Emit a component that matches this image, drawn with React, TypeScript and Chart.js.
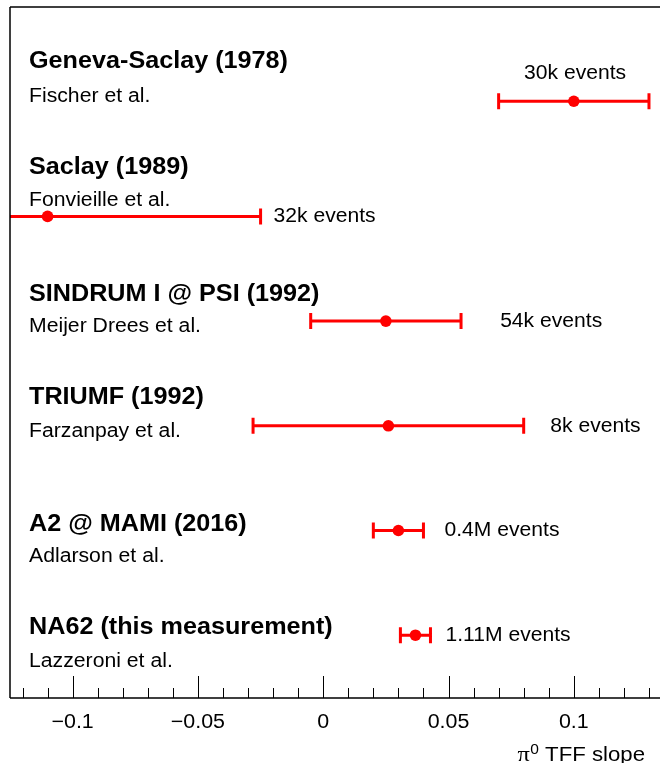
import { useEffect, useRef } from "react";
import { Chart, registerables } from "chart.js";

Chart.register(...registerables);

// ---- data ----
const experiments = [
  "Geneva-Saclay (1978)",
  "Saclay (1989)",
  "SINDRUM I @ PSI (1992)",
  "TRIUMF (1992)",
  "A2 @ MAMI (2016)",
  "NA62 (this measurement)",
];
const authors = [
  "Fischer et al.",
  "Fonvieille et al.",
  "Meijer Drees et al.",
  "Farzanpay et al.",
  "Adlarson et al.",
  "Lazzeroni et al.",
];
const eventLabels = ["30k events", "32k events", "54k events", "8k events", "0.4M events", "1.11M events"];
const slopeValues = [0.1, -0.11, 0.025, 0.026, 0.03, 0.0368];
const slopeErrors = [0.03, 0.085, 0.03, 0.054, 0.01, 0.006];
const rowY = [5.7, 4.6, 3.6, 2.6, 1.6, 0.6];
const xTickValues = [-0.1, -0.05, 0, 0.05, 0.1];
const xTickLabels = ["\u22120.1", "\u22120.05", "0", "0.05", "0.1"];

// ---- layout of annotations (axis units) ----
const titleY = [6.017, 5.005, 3.792, 2.805, 1.595, 0.608];
const authorY = [5.695, 4.699, 3.493, 2.496, 1.302, 0.299];
const eventX = [0.1005, -0.0198, 0.0706, 0.0906, 0.0484, 0.0488];

const X_MIN = -0.125;
const X_MAX = 0.134;
const RED = "#ff0000";
const FONT = "'Liberation Sans', Arial, Helvetica, sans-serif";

function stretchText(ctx: CanvasRenderingContext2D, text: string, x: number, y: number, sx: number, align: "left" | "center" | "right") {
  ctx.save();
  ctx.translate(x, y);
  ctx.scale(sx, 1);
  ctx.textAlign = align;
  ctx.fillText(text, 0, 0);
  ctx.restore();
}

const forestPlugin = {
  id: "forest",
  beforeDatasetsDraw(chart: any) {
    const { ctx, chartArea, scales } = chart;
    const xs = scales.x;
    const ys = scales.y;
    ctx.save();
    ctx.beginPath();
    ctx.rect(chartArea.left, chartArea.top, chartArea.right - chartArea.left, chartArea.bottom - chartArea.top);
    ctx.clip();
    ctx.strokeStyle = RED;
    ctx.lineWidth = 3;
    slopeValues.forEach((v, i) => {
      const y = ys.getPixelForValue(rowY[i]);
      const x1 = xs.getPixelForValue(v - slopeErrors[i]);
      const x2 = xs.getPixelForValue(v + slopeErrors[i]);
      ctx.beginPath();
      ctx.moveTo(x1, y);
      ctx.lineTo(x2, y);
      ctx.moveTo(x1, y - 8);
      ctx.lineTo(x1, y + 8);
      ctx.moveTo(x2, y - 8);
      ctx.lineTo(x2, y + 8);
      ctx.stroke();
    });
    ctx.restore();
  },
  afterDraw(chart: any) {
    const { ctx, chartArea, scales } = chart;
    const xs = scales.x;
    const ys = scales.y;
    const { left, right, top, bottom } = chartArea;
    ctx.save();
    // frame
    ctx.strokeStyle = "#000";
    ctx.lineWidth = 1.5;
    ctx.beginPath();
    ctx.moveTo(left, top);
    ctx.lineTo(right + 1, top);
    ctx.moveTo(left, top);
    ctx.lineTo(left, bottom);
    ctx.moveTo(left, bottom);
    ctx.lineTo(right + 1, bottom);
    ctx.stroke();
    // ticks
    ctx.lineWidth = 1;
    ctx.beginPath();
    for (let k = -12; k <= 13; k++) {
      const v = k / 100;
      const px = Math.round(xs.getPixelForValue(v)) + 0.5;
      const major = k % 5 === 0;
      ctx.moveTo(px, bottom);
      ctx.lineTo(px, bottom - (major ? 22 : 10));
    }
    ctx.stroke();
    // tick labels
    ctx.fillStyle = "#000";
    ctx.textBaseline = "alphabetic";
    ctx.font = `20px ${FONT}`;
    xTickValues.forEach((v, i) => {
      stretchText(ctx, xTickLabels[i], xs.getPixelForValue(v), bottom + 29.5, 1.07, "center");
    });
    // axis title
    const SX = 1.11;
    ctx.font = `20px ${FONT}`;
    const rest = " TFF slope";
    const restW = ctx.measureText(rest).width * SX;
    const axRight = 645;
    const by = bottom + 63;
    stretchText(ctx, rest, axRight, by, SX, "right");
    ctx.font = `14px ${FONT}`;
    const supW = ctx.measureText("0").width * SX;
    stretchText(ctx, "0", axRight - restW, by - 7, SX, "right");
    ctx.font = `22px 'Liberation Serif', 'DejaVu Serif', serif`;
    stretchText(ctx, "\u03c0", axRight - restW - supW - 0.5, by, SX, "right");
    // labels
    experiments.forEach((name, i) => {
      ctx.font = `bold 23px ${FONT}`;
      stretchText(ctx, name, left + 19, ys.getPixelForValue(titleY[i]), 1.095, "left");
      ctx.font = `20px ${FONT}`;
      stretchText(ctx, authors[i], left + 19, ys.getPixelForValue(authorY[i]), 1.06, "left");
      ctx.font = `20px ${FONT}`;
      const rowPx = ys.getPixelForValue(rowY[i]);
      if (i === 0) {
        stretchText(ctx, eventLabels[i], xs.getPixelForValue(eventX[i]), rowPx - 22, 1.055, "center");
      } else {
        stretchText(ctx, eventLabels[i], xs.getPixelForValue(eventX[i]), rowPx + 6, 1.055, "left");
      }
    });
    ctx.restore();
  },
};

export default function App() {
  const ref = useRef<HTMLCanvasElement>(null);
  useEffect(() => {
    const canvas = ref.current;
    if (!canvas) return;
    const chart = new Chart(canvas, {
      type: "scatter",
      data: {
        datasets: [
          {
            data: slopeValues.map((v, i) => ({ x: v, y: rowY[i] })),
            pointRadius: 5.8,
            pointHoverRadius: 5.8,
            pointBackgroundColor: RED,
            pointBorderWidth: 0,
            borderColor: RED,
          },
        ],
      },
      options: {
        responsive: false,
        animation: false,
        devicePixelRatio: 1,
        events: [],
        layout: { autoPadding: false, padding: { left: 10, top: 7, right: 1, bottom: 65 } },
        scales: {
          x: { type: "linear", min: X_MIN, max: X_MAX, display: false },
          y: { type: "linear", min: 0, max: 6.6, display: false },
        },
        plugins: { legend: { display: false }, tooltip: { enabled: false } },
      },
      plugins: [forestPlugin],
    });
    return () => chart.destroy();
  }, []);
  return (
    <div style={{ position: "absolute", left: 0, top: 0, width: 660, height: 763, background: "#fff" }}>
      <canvas ref={ref} width={660} height={763} style={{ display: "block" }} />
    </div>
  );
}
